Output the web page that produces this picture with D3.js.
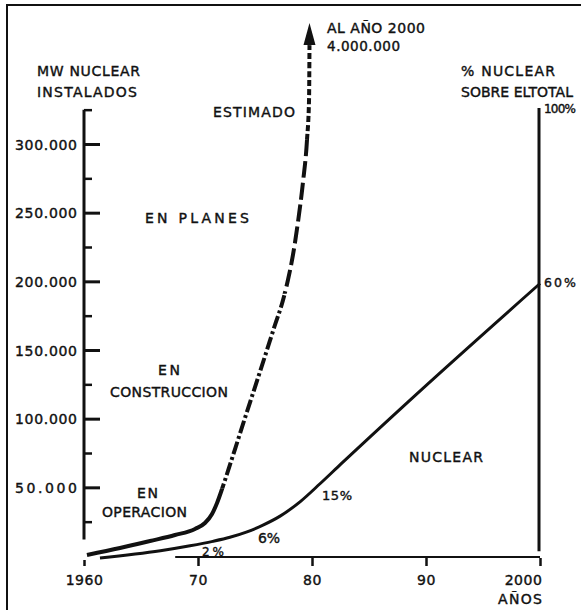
<!DOCTYPE html>
<html>
<head>
<meta charset="utf-8">
<script src="https://cdn.jsdelivr.net/npm/d3@7"></script>
<style>
  body { margin: 0; background: #fff; }
  text { font-family: "DejaVu Sans", sans-serif; fill: #111; stroke: #111; stroke-width: 0.4px; }
</style>
</head>
<body>
<svg id="chart"></svg>
<script>
const width = 581;
const height = 610;

// Datos
const yearTicks = [1960, 1970, 1980, 1990, 2000];
const yearTickLabels = ["1960", "70", "80", "90", "2000"];
const mwMajorTicks = [50000, 100000, 150000, 200000, 250000, 300000];
const mwMinorTicks = [25000, 75000, 125000, 175000, 225000, 275000, 325000];

// MW nuclear instalados [año, MW]
const mwInstalados = [[1960.26, 700], [1963.16, 5800], [1965.79, 10900], [1967.98, 15300],
    [1969.74, 19700], [1970.61, 24000], [1971.23, 30600], [1971.67, 38600], [1972.11, 48800],
    [1972.63, 61900], [1973.25, 77900], [1974.12, 100500], [1975.0, 123000], [1975.88, 145600],
    [1976.75, 168200], [1977.46, 186400], [1977.89, 201000], [1978.33, 219200], [1978.77, 243200],
    [1979.21, 272300], [1979.56, 302900], [1979.74, 332000], [1979.78, 372000]];
// limites entre tramos: en operacion | en construccion | en planes | estimado
const tramoLimites = [0, 49000, 191000, 303000, 400000];
const tramoDash = [null, "13,3,3,3", "17,5", "6,3"];

// % nuclear sobre el total [año, %]
const nuclearPct = [[1961.4, 0], [1966.7, 1.6], [1969.3, 2.7], [1971.3, 3.7], [1972.8, 4.6],
    [1974.3, 5.8], [1975.7, 7.3], [1977.2, 9.3], [1979.0, 12.6], [1980.7, 16.5],
    [1982.5, 20.8], [1988.6, 35.1], [2000, 61]];

const svg = d3.select("#chart")
    .attr("width", width)
    .attr("height", height);

const x = d3.scaleLinear().domain([1960, 2000]).range([84, 540]);
const yMW = d3.scaleLinear().domain([0, 300000]).range([556, 144]);
const yPct = d3.scaleLinear().domain([0, 100]).range([558, 108]);

// Marco
svg.append("line").attr("x1", 7).attr("x2", 7).attr("y1", 4).attr("y2", height)
    .attr("stroke", "#111").attr("stroke-width", 2);
svg.append("line").attr("x1", 6).attr("x2", width).attr("y1", 5).attr("y2", 5)
    .attr("stroke", "#111").attr("stroke-width", 2);

// Eje Y (MW)
const fmt = d => d3.format(",")(d).replace(/,/g, ".");

svg.append("line")
    .attr("x1", x(1960)).attr("x2", x(1960))
    .attr("y1", yMW(12000)).attr("y2", yMW(325000))
    .attr("stroke", "#111").attr("stroke-width", 3);

const yAxis = svg.append("g")
    .attr("transform", `translate(${x(1960)},0)`)
    .call(d3.axisLeft(yMW).tickValues(mwMajorTicks).tickSize(-16).tickPadding(7).tickFormat(fmt));
yAxis.select(".domain").remove();
yAxis.selectAll("line").attr("stroke", "#111").attr("stroke-width", 3);
yAxis.selectAll("text")
    .style("font-family", "DejaVu Sans").style("font-size", "14px")
    .attr("textLength", 62).attr("lengthAdjust", "spacing")
    .attr("dy", "0.36em");

const yMinor = svg.append("g")
    .attr("transform", `translate(${x(1960)},0)`)
    .call(d3.axisLeft(yMW).tickValues(mwMinorTicks).tickSize(-8).tickFormat(""));
yMinor.select(".domain").remove();
yMinor.selectAll("line").attr("stroke", "#111").attr("stroke-width", 2.5);

// Eje X (años)
svg.append("line")
    .attr("x1", x(1968)).attr("x2", x(2000))
    .attr("y1", 557).attr("y2", 557)
    .attr("stroke", "#111").attr("stroke-width", 2);

const xAxis = svg.append("g")
    .attr("transform", "translate(0,558)")
    .call(d3.axisBottom(x).tickValues(yearTicks).tickSize(8).tickPadding(9)
        .tickFormat((d, i) => yearTickLabels[i]));
xAxis.select(".domain").remove();
xAxis.selectAll("line").attr("stroke", "#111").attr("stroke-width", 2.5);
xAxis.selectAll(".tick").filter(d => d === 1960).select("line").attr("y1", 2);
xAxis.selectAll("text")
    .style("font-family", "DejaVu Sans").style("font-size", "14px")
    .style("letter-spacing", "0.5px");
xAxis.selectAll(".tick").filter(d => d === 2000).select("text").attr("dx", "-17");

// Eje derecho (%)
svg.append("line")
    .attr("x1", x(2000) - 1).attr("x2", x(2000) - 1)
    .attr("y1", yPct(100)).attr("y2", yPct(1.5))
    .attr("stroke", "#111").attr("stroke-width", 3);

// Curva MW: un solo trazado, recortado por tramos con distinto estilo
const lineMW = d3.line().x(d => x(d[0])).y(d => yMW(d[1])).curve(d3.curveMonotoneX);
const linePct = d3.line().x(d => x(d[0])).y(d => yPct(d[1])).curve(d3.curveMonotoneX);

const defs = svg.append("defs");
tramoDash.forEach((dash, i) => {
    const top = yMW(tramoLimites[i + 1]);
    const bottom = yMW(tramoLimites[i]);
    defs.append("clipPath").attr("id", "tramo" + i)
        .append("rect")
        .attr("x", 0).attr("width", width)
        .attr("y", top).attr("height", bottom - top + (i === 0 ? 10 : 0));
    svg.append("path")
        .attr("d", lineMW(mwInstalados))
        .attr("clip-path", `url(#tramo${i})`)
        .attr("fill", "none")
        .attr("stroke", "#111")
        .attr("stroke-width", 4)
        .attr("stroke-dasharray", dash);
});

// Flecha
const tip = mwInstalados[mwInstalados.length - 1];
const ax = x(tip[0]);
const ay = yMW(tip[1]);
svg.append("path")
    .attr("d", `M${ax},${ay - 22} L${ax - 6},${ay} L${ax + 6},${ay} Z`)
    .attr("fill", "#111");

svg.append("path")
    .attr("d", linePct(nuclearPct))
    .attr("fill", "none")
    .attr("stroke", "#111")
    .attr("stroke-width", 3);

// Textos
function label(t, px, py, opts = {}) {
    const el = svg.append("text")
        .attr("x", px).attr("y", py)
        .style("font-size", (opts.size || 14) + "px")
        .text(t);
    if (opts.len) el.attr("textLength", opts.len).attr("lengthAdjust", "spacing");
    return el;
}

label("MW NUCLEAR", 37, 76, { len: 103 });
label("INSTALADOS", 37, 97, { len: 100 });
label("ESTIMADO", 213, 117, { len: 82 });
label("AL AÑO 2000", 327, 33, { len: 98 });
label("4.000.000", 327, 51, { len: 73, size: 13.5 });
label("% NUCLEAR", 461, 76, { len: 94 });
label("SOBRE ELTOTAL", 461, 97, { len: 112 });
label("100%", x(2000) + 4, yPct(100) + 5, { len: 32, size: 12 });
label("EN PLANES", 145, 223, { len: 104 });
label("EN", 158, 375, { len: 22 });
label("CONSTRUCCION", 110, 397, { len: 118 });
label("EN", 137, 498, { len: 21 });
label("OPERACION", 102, 517, { len: 85 });
label("NUCLEAR", 409, 462, { len: 74 });
label("2 %", 202, 556, { len: 22, size: 12 });
label("6%", 258, 543, { len: 22 });
label("15%", 322, 500, { len: 30, size: 13 });
label("60%", x(2000) + 4, yPct(61) + 3, { len: 32, size: 12.5 });
label("AÑOS", 498, 604, { len: 44 });
</script>
</body>
</html>
